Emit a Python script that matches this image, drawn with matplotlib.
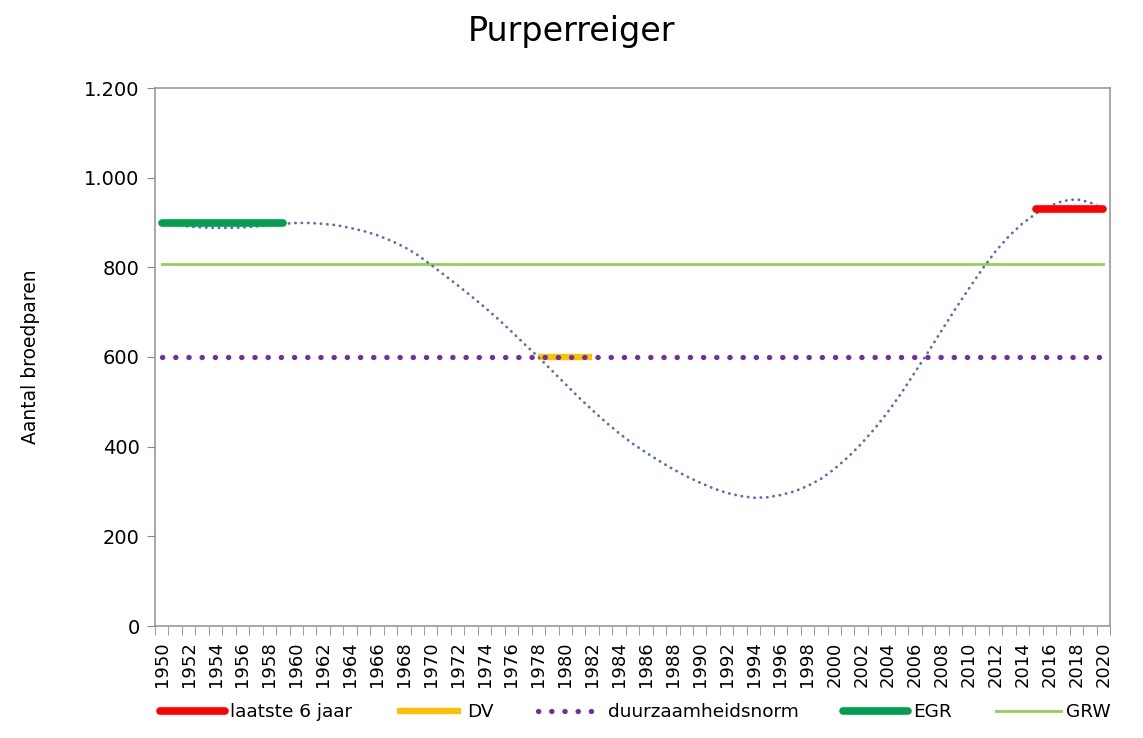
import numpy as np
import matplotlib.pyplot as plt
from matplotlib.ticker import FuncFormatter

plt.rcParams['font.family'] = ['DejaVu Sans']

# -- data -------------------------------------------------------------
years = list(range(1950, 2021))

# trend line (one value per year)
trend = [900, 895, 891, 889, 888, 888, 889, 891, 894, 897,
         899, 899, 897, 894, 888, 881, 872, 860, 846, 828,
         806, 783, 760, 736, 711, 685, 657, 628, 600, 570,
         540, 510, 482, 455, 430, 407, 387, 368, 350, 334,
         320, 307, 297, 290, 286, 287, 292, 300, 312, 328,
         350, 376, 406, 440, 478, 520, 566, 612, 660, 707,
         752, 796, 836, 870, 898, 920, 937, 948, 952, 945,
         930]

egr_years = [1950, 1959]
egr_value = 900
dv_years = [1978, 1982]
dv_value = 600
recent_years = [2015, 2020]
recent_value = 930
norm_value = 600
grw_value = 808

# -- plot -------------------------------------------------------------
fig = plt.figure(figsize=(11.43, 7.38), dpi=100)
ax = fig.add_axes([155 / 1143, 1 - 626 / 738, 955 / 1143, 538 / 738])

x0, x1 = years[0], years[-1]

ax.plot(years, trend, color='#5470B0', lw=2.0, ls=(0, (0.1, 2.2)),
        dash_capstyle='round', zorder=3)
ax.plot([x0, x1], [norm_value] * 2, color='#7030A0', lw=3.8,
        ls=(0, (0.05, 2.45)), dash_capstyle='round', zorder=2,
        label='duurzaamheidsnorm')
ax.plot([x0, x1], [grw_value] * 2, color='#92D050', lw=2.0, zorder=2,
        label='GRW')
ax.plot(egr_years, [egr_value] * 2, color='#00A050', lw=5.5,
        solid_capstyle='round', zorder=4, label='EGR')
ax.plot(dv_years, [dv_value] * 2, color='#FFC000', lw=4.5,
        solid_capstyle='butt', zorder=1, label='DV')
ax.plot(recent_years, [recent_value] * 2, color='#FF0000', lw=5.5,
        solid_capstyle='round', zorder=4, label='laatste 6 jaar')

ax.set_xlim(x0 - 0.5, x1 + 0.5)
ax.set_ylim(0, 1200)
ax.set_yticks(range(0, 1201, 200))
ax.yaxis.set_major_formatter(FuncFormatter(lambda v, p: f'{int(v):,}'.replace(',', '.')))
ax.set_xticks(years[::2])
ax.set_xticklabels([str(y) for y in years[::2]], rotation=90)
ax.set_xticks(np.arange(x0 - 0.5, x1 + 1, 1), minor=True)
ax.tick_params(axis='x', which='major', length=0, labelsize=13, pad=11)
ax.tick_params(axis='x', which='minor', length=6.5, color='#888888', direction='out')
ax.tick_params(axis='y', length=6, color='#888888', labelsize=14, pad=5)

for s in ax.spines.values():
    s.set_color('#999999')
    s.set_linewidth(1.2)

ax.set_ylabel('Aantal broedparen', fontsize=13.5)
ax.yaxis.set_label_coords(-0.12, 0.5)
fig.suptitle('Purperreiger', fontsize=24, y=0.98)

handles, labels = ax.get_legend_handles_labels()
order = ['laatste 6 jaar', 'DV', 'duurzaamheidsnorm', 'EGR', 'GRW']
hl = dict(zip(labels, handles))
fig.legend([hl[k] for k in order], order, loc='lower center',
           bbox_to_anchor=(0.556, 0.0), ncol=5, frameon=False, fontsize=13.3,
           handlelength=3.5, handletextpad=0.3, columnspacing=2.4)

fig.savefig('out.png', dpi=100)
